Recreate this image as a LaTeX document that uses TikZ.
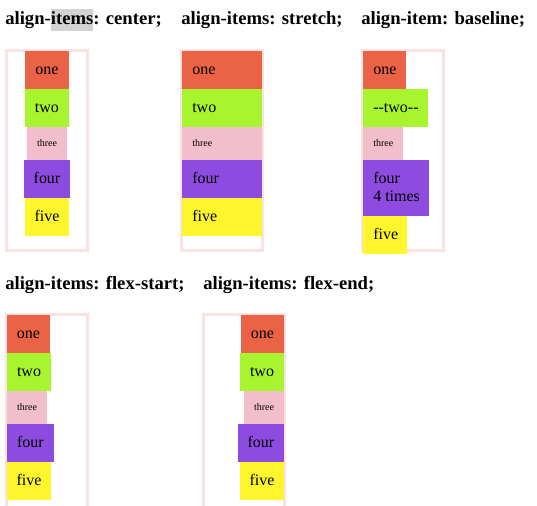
\documentclass[tikz,border=0pt]{standalone}
\usepackage{fontspec}
\setmainfont{Liberation Serif}
\definecolor{cone}{RGB}{235,99,70}
\definecolor{ctwo}{RGB}{168,244,46}
\definecolor{cthree}{RGB}{243,190,203}
\definecolor{cfour}{RGB}{142,75,224}
\definecolor{cfive}{RGB}{254,246,44}
\definecolor{cborder}{RGB}{250,226,226}
\definecolor{chl}{RGB}{211,211,211}
\begin{document}
\begin{tikzpicture}[x=0.75pt,y=-0.75pt,
  title/.style={anchor=base west,inner sep=0pt,font=\bfseries\fontsize{14}{17}\selectfont},
  lbl/.style={inner sep=0pt,anchor=base,font=\fontsize{12}{14}\selectfont},
  lbll/.style={inner sep=0pt,anchor=base west,font=\fontsize{12}{14}\selectfont},
  sml/.style={inner sep=0pt,anchor=base,font=\fontsize{7.5}{9}\selectfont},
  smll/.style={inner sep=0pt,anchor=base west,font=\fontsize{7.5}{9}\selectfont},
  frame/.style={draw=cborder,line width=2pt}]
\useasboundingbox (0,0) rectangle (537,506);
\fill[white] (0,0) rectangle (537,506);

% titles
\fill[chl] (51,9) rectangle (93,31);
\node[title] (t1) at (5,25) {align-items: center;};
\node[title] (t2) at (181,25) {align-items: stretch;};
\node[title] (t3) at (361,25) {align-item: baseline;};
\node[title] (t4) at (5,290) {align-items: flex-start;};
\node[title] (t5) at (203,290) {align-items: flex-end;};

% frames
\draw[frame] (6.5,50.5) rectangle (87.5,250.5);
\draw[frame] (181.5,50.5) rectangle (262.5,250.5);
\draw[frame] (362.5,50.5) rectangle (443.5,250.5);
\draw[frame] (6.5,510) -- (6.5,314.5) -- (87.5,314.5) -- (87.5,510);
\draw[frame] (203.5,510) -- (203.5,314.5) -- (284.5,314.5) -- (284.5,510);

% container 1: center
\fill[cone] (25,51) rectangle (69,89);
\fill[ctwo] (25,89) rectangle (69,127);
\fill[cthree] (27,127) rectangle (67,160);
\fill[cfour] (24,160) rectangle (70,198);
\fill[cfive] (25,198) rectangle (69,236);
\node[lbl] (a1) at (47,75) {one};
\node[lbl] (a2) at (47,113) {two};
\node[sml] (a3) at (47,147) {three};
\node[lbl] (a4) at (47,184) {four};
\node[lbl] (a5) at (47,222) {five};

% container 2: stretch
\fill[cone] (182,51) rectangle (262,89);
\fill[ctwo] (182,89) rectangle (262,127);
\fill[cthree] (182,127) rectangle (262,160);
\fill[cfour] (182,160) rectangle (262,198);
\fill[cfive] (182,198) rectangle (262,236);
\node[lbll] (b1) at (192,75) {one};
\node[lbll] (b2) at (192,113) {two};
\node[smll] (b3) at (192,147) {three};
\node[lbll] (b4) at (192,184) {four};
\node[lbll] (b5) at (192,222) {five};

% container 3: baseline
\fill[cone] (363,51) rectangle (406,89);
\fill[ctwo] (363,89) rectangle (428,127);
\fill[cthree] (363,127) rectangle (403,160);
\fill[cfour] (363,160) rectangle (429,216);
\fill[cfive] (363,216) rectangle (407,254);
\node[lbll] (c1) at (373,75) {one};
\node[lbll] (c2) at (373,113) {-{}-two-{}-};
\node[smll] (c3) at (373,147) {three};
\node[lbll] (c4) at (373,184) {four};
\node[lbll] (c4b) at (373,202) {4 times};
\node[lbll] (c5) at (373,240) {five};

% container 4: flex-start
\fill[cone] (7,315) rectangle (50,353);
\fill[ctwo] (7,353) rectangle (51,391);
\fill[cthree] (7,391) rectangle (47,424);
\fill[cfour] (7,424) rectangle (54,462);
\fill[cfive] (7,462) rectangle (51,500);
\node[lbl] (d1) at (28.5,339) {one};
\node[lbl] (d2) at (29,377) {two};
\node[sml] (d3) at (27,411) {three};
\node[lbl] (d4) at (30.5,448) {four};
\node[lbl] (d5) at (29,486) {five};

% container 5: flex-end
\fill[cone] (241,315) rectangle (284,353);
\fill[ctwo] (240,353) rectangle (284,391);
\fill[cthree] (244,391) rectangle (284,424);
\fill[cfour] (238,424) rectangle (284,462);
\fill[cfive] (240,462) rectangle (284,500);
\node[lbl] (e1) at (262.5,339) {one};
\node[lbl] (e2) at (262,377) {two};
\node[sml] (e3) at (264,411) {three};
\node[lbl] (e4) at (261,448) {four};
\node[lbl] (e5) at (262,486) {five};
\end{tikzpicture}
\end{document}
